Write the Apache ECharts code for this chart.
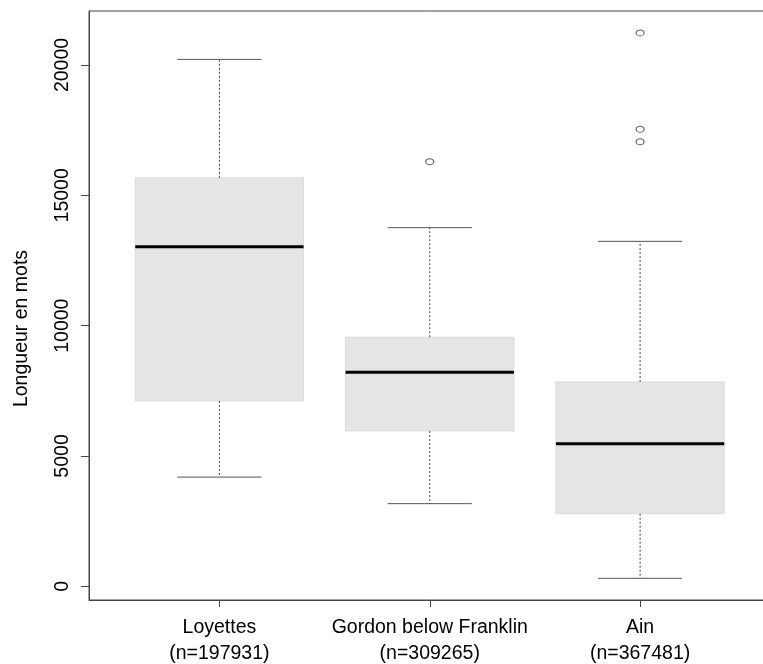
<!DOCTYPE html>
<html>
<head>
<meta charset="utf-8">
<script src="https://cdn.jsdelivr.net/npm/echarts@6/dist/echarts.min.js"></script>
<style>
html,body{margin:0;padding:0;background:#fff;}
#chart{width:763px;height:664px;}
</style>
</head>
<body>
<div id="chart"></div>
<script>
// ---- data ----
var categories = ['Loyettes', 'Gordon below Franklin', 'Ain'];
var sampleSizes = [197931, 309265, 367481];
var whiskerLow  = [4190, 3170, 307];
var q1          = [7110, 5960, 2785];
var median      = [13030, 8210, 5470];
var q3          = [15675, 9555, 7840];
var whiskerHigh = [20215, 13760, 13235];
var outlierGroup = [2, 3, 3, 3];
var outlierValue = [16290, 21230, 17535, 17055];
var yTicks = [0, 5000, 10000, 15000, 20000];
var xPositions = [1, 2, 3];

var boxData = categories.map(function (c, i) {
  return [xPositions[i], whiskerLow[i], q1[i], median[i], q3[i], whiskerHigh[i]];
});
var outlierData = outlierGroup.map(function (g, i) { return [g, outlierValue[i]]; });

var FONT = 'Liberation Sans';
var chart = echarts.init(document.getElementById('chart'), null, {renderer: 'canvas'});

function renderBox(params, api) {
  var x = api.value(0);
  var pLow = api.coord([x, api.value(1)]);
  var pQ1 = api.coord([x, api.value(2)]);
  var pMed = api.coord([x, api.value(3)]);
  var pQ3 = api.coord([x, api.value(4)]);
  var pHigh = api.coord([x, api.value(5)]);
  var boxW = api.size([0.8, 0])[0];
  var capW = api.size([0.4, 0])[0];
  var cx = pMed[0];
  var whiskerStyle = {stroke: '#444', lineWidth: 1, lineDash: [2, 2]};
  var capStyle = {stroke: '#555', lineWidth: 1};
  return {
    type: 'group',
    children: [
      {type: 'rect', shape: {x: cx - boxW / 2, y: pQ3[1], width: boxW, height: pQ1[1] - pQ3[1]},
        style: {fill: '#e5e5e5', stroke: '#dadada', lineWidth: 1}},
      {type: 'line', shape: {x1: cx, y1: pQ3[1], x2: cx, y2: pHigh[1]}, style: whiskerStyle},
      {type: 'line', shape: {x1: cx, y1: pQ1[1], x2: cx, y2: pLow[1]}, style: whiskerStyle},
      {type: 'line', shape: {x1: cx - capW / 2, y1: pHigh[1], x2: cx + capW / 2, y2: pHigh[1]}, style: capStyle},
      {type: 'line', shape: {x1: cx - capW / 2, y1: pLow[1], x2: cx + capW / 2, y2: pLow[1]}, style: capStyle},
      {type: 'line', shape: {x1: cx - boxW / 2, y1: pMed[1], x2: cx + boxW / 2, y2: pMed[1]},
        style: {stroke: '#000', lineWidth: 3}}
    ]
  };
}

var option = {
  animation: false,
  backgroundColor: '#fff',
  grid: {left: 89, top: 11, width: 681.5, height: 589, show: true, borderColor: '#444', borderWidth: 1,
    backgroundColor: 'transparent', outerBoundsMode: 'none', containLabel: false},
  xAxis: {
    type: 'value', min: 0.38, max: 3.62,
    splitLine: {show: false},
    axisLine: {show: true, onZero: false, lineStyle: {color: '#444'}},
    axisTick: {show: true, length: 7, lineStyle: {color: '#444'}, customValues: xPositions},
    axisLabel: {
      customValues: xPositions,
      margin: 15,
      fontFamily: FONT, fontSize: 19.5, color: '#000', lineHeight: 26,
      formatter: function (v) {
        var i = Math.round(v) - 1;
        return categories[i] + '\n(n=' + sampleSizes[i] + ')';
      }
    }
  },
  yAxis: {
    type: 'value', min: -526, max: 22072,
    name: 'Longueur en mots', nameLocation: 'middle', nameRotate: 90, nameGap: 57,
    nameTextStyle: {fontFamily: FONT, fontSize: 19.5, color: '#000', padding: [0, 46, 0, 0]},
    splitLine: {show: false},
    axisLine: {show: true, onZero: false, lineStyle: {color: '#444'}},
    axisTick: {show: true, length: 8, lineStyle: {color: '#444'}, customValues: yTicks},
    axisLabel: {customValues: yTicks, rotate: 90, margin: 16, fontFamily: FONT, fontSize: 19.5, color: '#000',
      formatter: function (v) { return String(v); }}
  },
  series: [
    {type: 'custom', renderItem: renderBox, data: boxData, encode: {x: 0, y: [1, 2, 3, 4, 5]}, z: 2},
    {type: 'scatter', data: outlierData, symbol: 'circle', symbolSize: [8, 6],
      itemStyle: {color: 'rgba(0,0,0,0)', borderColor: '#333', borderWidth: 1}, z: 3}
  ]
};
chart.setOption(option);
</script>
</body>
</html>
